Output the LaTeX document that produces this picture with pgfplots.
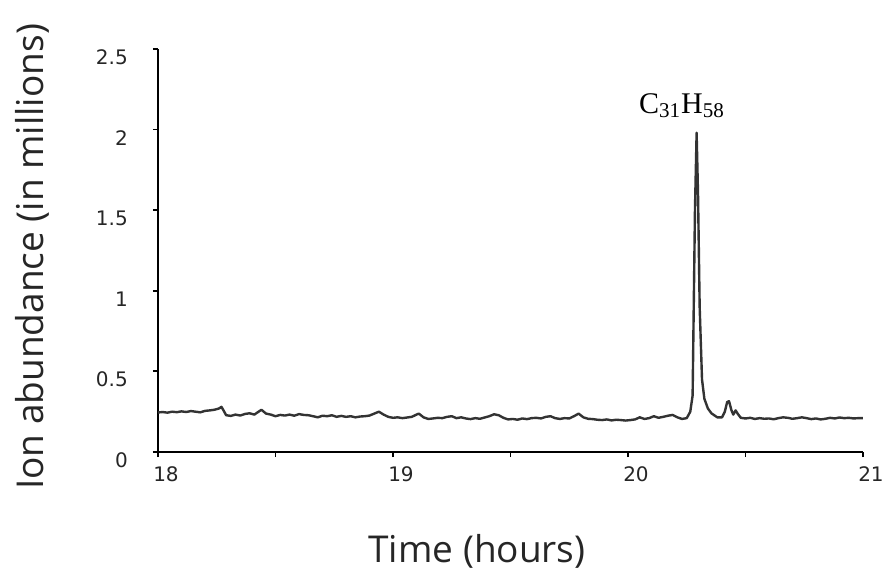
\documentclass[border=0pt]{standalone}
\usepackage{pgfplots}
\pgfplotsset{compat=1.18}
\usepackage{fontspec}
\setmainfont{Liberation Serif}
\newfontfamily\tickfont{DejaVu Sans}
\newfontfamily\labelfont{Open Sans}
\newfontfamily\annfont{Liberation Serif}
\definecolor{trace}{HTML}{333333}
\begin{document}
\begin{tikzpicture}
\useasboundingbox (-79pt,-59.5pt) rectangle (363.5pt,226pt);
\begin{axis}[
  at={(0,0)}, anchor=south west,
  scale only axis, width=352.5pt, height=201.5pt,
  xmin=18, xmax=21, ymin=0, ymax=2.5,
  axis x line*=bottom, axis y line*=left,
  axis line style={line width=1pt, -},
  tick align=outside,
  major tick length=2.6pt, minor tick length=2.6pt,
  every tick/.style={line width=0.9pt, black},
  xtick={18,19,20,21}, minor xtick={18.5,19.5,20.5},
  ytick={0,0.5,1,1.5,2,2.5},
  /pgf/number format/assume math mode=true,
  ticklabel style={font=\tickfont\fontsize{10}{12}\selectfont, text=black!85},
  xticklabel style={xshift=4pt, yshift=-1pt},
  yticklabel style={xshift=-9pt, yshift=-4pt},
  every axis x label/.style={at={(axis description cs:0.4525,-0.2754)}, anchor=base},
  every axis y label/.style={at={(axis description cs:-0.1631,0.484)}, rotate=90, anchor=base},
  label style={font=\labelfont\fontsize{18.5}{22}\selectfont, text=black!85},
  xlabel={Time (hours)},
  ylabel={Ion abundance (in millions)},
  clip=false,
]
\addplot[trace, line width=1.2pt, line join=round] coordinates {
(18.00,0.245) (18.02,0.248) (18.04,0.244) (18.06,0.250) (18.08,0.247) (18.10,0.252)
(18.12,0.248) (18.14,0.254) (18.16,0.250) (18.18,0.246) (18.20,0.255) (18.22,0.258)
(18.24,0.262) (18.26,0.270) (18.27,0.280) (18.28,0.255) (18.29,0.228) (18.31,0.224)
(18.33,0.232) (18.35,0.226) (18.37,0.236) (18.39,0.240) (18.41,0.232) (18.43,0.252)
(18.44,0.262) (18.46,0.238) (18.48,0.232) (18.50,0.222) (18.52,0.230) (18.54,0.226)
(18.56,0.232) (18.58,0.225) (18.60,0.235) (18.62,0.230) (18.64,0.228) (18.66,0.222)
(18.68,0.215) (18.70,0.225) (18.72,0.222) (18.74,0.228) (18.76,0.218) (18.78,0.224)
(18.80,0.218) (18.82,0.222) (18.84,0.215) (18.86,0.220) (18.88,0.222) (18.90,0.226)
(18.92,0.238) (18.94,0.250) (18.96,0.232) (18.98,0.218) (19.00,0.212) (19.02,0.215)
(19.04,0.210) (19.06,0.214) (19.08,0.218) (19.10,0.232) (19.11,0.238) (19.13,0.215)
(19.15,0.205) (19.17,0.208) (19.19,0.212) (19.21,0.210) (19.23,0.218) (19.25,0.222)
(19.27,0.210) (19.29,0.215) (19.31,0.208) (19.33,0.204) (19.35,0.210) (19.37,0.206)
(19.39,0.214) (19.41,0.222) (19.43,0.234) (19.45,0.228) (19.47,0.212) (19.49,0.202)
(19.51,0.205) (19.53,0.200) (19.55,0.208) (19.57,0.204) (19.59,0.210) (19.61,0.212)
(19.63,0.208) (19.65,0.218) (19.67,0.222) (19.69,0.210) (19.71,0.205) (19.73,0.210)
(19.75,0.208) (19.77,0.222) (19.79,0.238) (19.81,0.215) (19.83,0.206) (19.85,0.204)
(19.87,0.200) (19.89,0.198) (19.91,0.202) (19.93,0.196) (19.95,0.200) (19.97,0.198)
(19.99,0.195) (20.01,0.198) (20.03,0.202) (20.05,0.215) (20.07,0.205) (20.09,0.210)
(20.11,0.222) (20.13,0.212) (20.15,0.218) (20.17,0.225) (20.19,0.230) (20.21,0.215)
(20.23,0.205) (20.25,0.210) (20.265,0.250) (20.275,0.350) (20.285,1.500) (20.292,1.980)
(20.298,1.600) (20.305,0.900) (20.315,0.450) (20.325,0.330) (20.340,0.270) (20.355,0.240)
(20.380,0.215) (20.400,0.215) (20.412,0.250) (20.422,0.310) (20.430,0.315) (20.440,0.260)
(20.448,0.232) (20.458,0.258) (20.468,0.235) (20.480,0.212) (20.50,0.208) (20.52,0.212) (20.54,0.205)
(20.56,0.210) (20.58,0.206) (20.60,0.208) (20.62,0.203) (20.64,0.210) (20.66,0.215)
(20.68,0.212) (20.70,0.206) (20.72,0.210) (20.74,0.215) (20.76,0.210) (20.78,0.204)
(20.80,0.208) (20.82,0.202) (20.84,0.206) (20.86,0.212) (20.88,0.208) (20.90,0.214)
(20.92,0.210) (20.94,0.212) (20.96,0.208) (20.98,0.210) (21.00,0.210)
};
\node[anchor=base, font=\annfont\fontsize{15}{18}\selectfont] at (axis cs:20.23,2.1) {C\textsubscript{31}H\textsubscript{58}};
\end{axis}
\end{tikzpicture}
\end{document}
